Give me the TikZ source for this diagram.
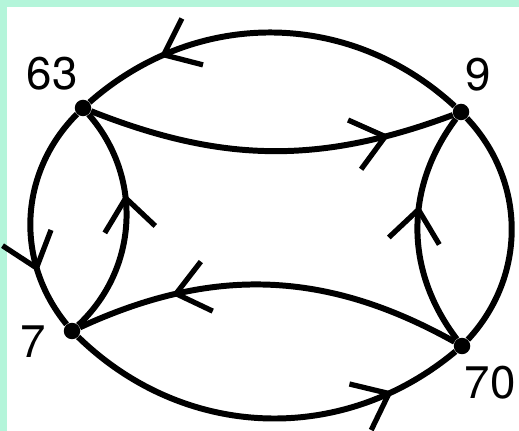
\documentclass[tikz,border=0pt]{standalone}
\usepackage{fontspec}
\setsansfont{TeX Gyre Heros}
\usetikzlibrary{arrows.meta,decorations.markings}
\definecolor{mint}{RGB}{180,245,218}

\tikzset{
  vtx/.style={circle,fill=black,inner sep=0pt,minimum size=0.33cm},
  lbl/.style={font=\sffamily\fontsize{26}{28}\selectfont,inner sep=0pt},
  rim/.style={line width=3.4pt},
  flow/.style={rim,postaction={decorate},
    decoration={markings,mark=at position #1 with
      {\arrow{Straight Barb[length=18pt,width=29pt,line width=3pt]}}}}
}

\begin{document}
\begin{tikzpicture}[x=0.02cm,y=-0.02cm]
  % frame
  \useasboundingbox (0,0) rectangle (519,431);
  \fill[mint] (0,0) rectangle (519,431);
  \fill[white] (7,7) rectangle (519,431);
  % vertices
  \node[vtx] (n63) at (83,108) {};
  \node[vtx] (n9) at (461,112) {};
  \node[vtx] (n7) at (72,331) {};
  \node[vtx] (n70) at (462,346) {};
  \node[lbl] (l63) at (52,74) {63};
  \node[lbl] (l9) at (478,75) {9};
  \node[lbl] (l7) at (33,342) {7};
  \node[lbl] (l70) at (490,383) {70};
  % edges
  \draw[flow=0.79] (n9) to[bend right=42] (n63);
  \draw[flow=0.82] (n63) to[bend right=21] (n9);
  \draw[flow=0.74] (n63) to[bend right=42] (n7);
  \draw[flow=0.62] (n7) to[bend right=44] (n63);
  \draw[flow=0.75] (n70) to[bend right=27] (n7);
  \draw[flow=0.82] (n7) to[bend right=42] (n70);
  \draw[flow=0.6] (n70) to[bend left=37] (n9);
  \draw[rim] (n9) to[bend left=43] (n70);
\end{tikzpicture}
\end{document}
